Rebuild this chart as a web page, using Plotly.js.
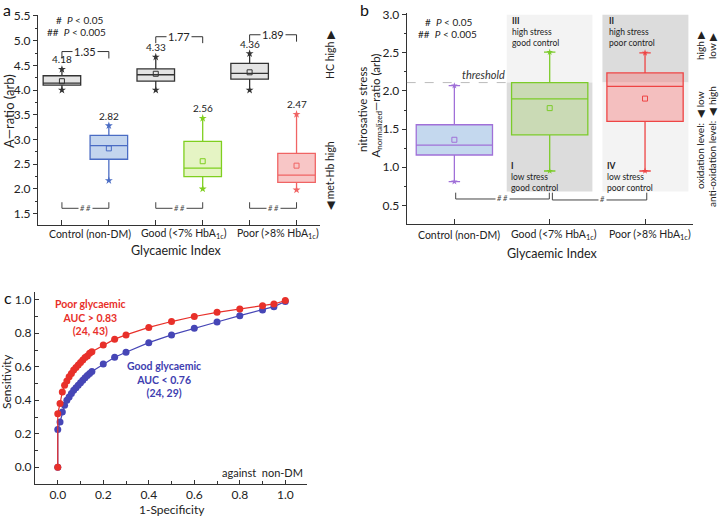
<!DOCTYPE html>
<html>
<head>
<meta charset="utf-8">
<script src="https://cdn.plot.ly/plotly-3.0.1.min.js"></script>
<style>
  html, body { margin: 0; padding: 0; background: #fff; }
  #chart { width: 719px; height: 516px; }
</style>
</head>
<body>
<div id="chart"></div>
<script>
// panel a: HC (grey) and met-Hb (coloured) ratios per glycaemic group
var groups = ['Control (non-DM)', 'Good (&lt;7% HbA<sub>1c</sub>)', 'Poor (&gt;8% HbA<sub>1c</sub>)'];
var hcQ1 = [4.10, 4.18, 4.22];
var hcMed = [4.14, 4.31, 4.34];
var hcQ3 = [4.29, 4.43, 4.54];
var hcLo = [4.00, 4.00, 4.00];
var hcHi = [4.42, 4.67, 4.74];
var hcMean = [4.18, 4.33, 4.36];
var mhQ1 = [2.60, 2.25, 2.13];
var mhMed = [2.875, 2.42, 2.28];
var mhQ3 = [3.085, 2.96, 2.72];
var mhLo = [2.17, 2.00, 1.98];
var mhHi = [3.28, 3.43, 3.51];
var mhMean = [2.82, 2.56, 2.47];
var ratioText = ['1.35', '1.77', '1.89'];

// panel b: nitrosative stress
var nsQ1 = [1.16, 1.425, 1.60];
var nsMed = [1.29, 1.895, 2.06];
var nsQ3 = [1.557, 2.11, 2.237];
var nsLo = [0.81, 0.95, 0.95];
var nsHi = [2.07, 2.51, 2.50];
var nsMean = [1.36, 1.775, 1.90];
var threshold = 2.11;

// panel c: ROC curves
var poorFpr = [0, 0, 0.01, 0.02, 0.03, 0.04, 0.05, 0.06, 0.07, 0.08, 0.09, 0.10, 0.11, 0.12, 0.13, 0.14, 0.15, 0.20, 0.25, 0.30, 0.40, 0.50, 0.60, 0.70, 0.80, 0.90, 0.95, 1.00];
var poorTpr = [0, 0.32, 0.38, 0.45, 0.49, 0.515, 0.54, 0.56, 0.58, 0.595, 0.61, 0.625, 0.64, 0.655, 0.665, 0.68, 0.69, 0.73, 0.765, 0.79, 0.835, 0.87, 0.90, 0.925, 0.945, 0.965, 0.975, 0.995];
var goodFpr = [0, 0, 0.01, 0.02, 0.03, 0.04, 0.05, 0.06, 0.07, 0.08, 0.09, 0.10, 0.11, 0.12, 0.13, 0.14, 0.15, 0.20, 0.25, 0.30, 0.40, 0.50, 0.60, 0.70, 0.80, 0.90, 0.95, 1.00];
var goodTpr = [0, 0.225, 0.27, 0.33, 0.37, 0.40, 0.42, 0.44, 0.46, 0.475, 0.49, 0.505, 0.52, 0.535, 0.548, 0.56, 0.572, 0.617, 0.657, 0.687, 0.744, 0.79, 0.83, 0.867, 0.905, 0.939, 0.959, 0.99];

var W = 719, H = 516;
function px(x) { return x / W; }
function py(y) { return 1 - y / H; }

var FONT = 'Lato, "Open Sans", sans-serif';
var posHC = [1, 3, 5], posMH = [2, 4, 6];
var mhLine = ['#4a6cc4', '#7fcf1f', '#f06464'];
var mhFill = ['#c3d5ee', '#e5f4c4', '#f8c6c6'];
var nsLine = ['#a070d8', '#7ccb2a', '#ee4444'];
var nsFill = ['#c4d8ee', 'rgba(170,215,110,0.35)', 'rgba(245,120,120,0.42)'];

var data = [];

function addBox(ax, ay, x, q1, med, q3, lo, hi, mean, line, fill, cap, mk) {
  data.push({
    type: 'box', xaxis: ax, yaxis: ay, x: [x],
    q1: [q1], median: [med], q3: [q3], lowerfence: [lo], upperfence: [hi],
    width: 0.8, whiskerwidth: cap, boxpoints: false,
    fillcolor: fill, line: { color: line, width: 1.3 },
    hoverinfo: 'skip', showlegend: false
  });
  data.push({
    type: 'scatter', mode: 'markers', xaxis: ax, yaxis: ay,
    x: [x, x], y: [lo, hi],
    marker: { symbol: 'star', size: mk, color: line },
    hoverinfo: 'skip', showlegend: false
  });
  data.push({
    type: 'scatter', mode: 'markers', xaxis: ax, yaxis: ay,
    x: [x], y: [mean],
    marker: { symbol: 'square-open', size: 5, color: line, line: { width: 1 } },
    hoverinfo: 'skip', showlegend: false
  });
}

for (var i = 0; i < 3; i++) {
  addBox('x', 'y', posHC[i], hcQ1[i], hcMed[i], hcQ3[i], hcLo[i], hcHi[i], hcMean[i], '#333333', '#e4e4e4', 0, 6);
  addBox('x', 'y', posMH[i], mhQ1[i], mhMed[i], mhQ3[i], mhLo[i], mhHi[i], mhMean[i], mhLine[i], mhFill[i], 0, 6);
  addBox('x2', 'y2', i, nsQ1[i], nsMed[i], nsQ3[i], nsLo[i], nsHi[i], nsMean[i], nsLine[i], nsFill[i], 0.15, 5);
}

data.push({
  type: 'scatter', mode: 'lines+markers', xaxis: 'x3', yaxis: 'y3',
  x: goodFpr, y: goodTpr,
  line: { color: '#4646b6', width: 1.2 },
  marker: { color: '#4646b6', size: 7 },
  hoverinfo: 'skip', showlegend: false
});
data.push({
  type: 'scatter', mode: 'lines+markers', xaxis: 'x3', yaxis: 'y3',
  x: poorFpr, y: poorTpr,
  line: { color: '#e8302a', width: 1.2 },
  marker: { color: '#e8302a', size: 7 },
  hoverinfo: 'skip', showlegend: false
});

var annotations = [];
function f(size, color) { return { family: FONT, size: size, color: color || '#222' }; }
function note(x, y, text, o) {
  annotations.push(Object.assign({
    xref: 'paper', yref: 'paper', x: px(x), y: py(y), text: text, showarrow: false,
    xanchor: 'center', yanchor: 'middle', font: f(11)
  }, o || {}));
}
function dnote(xr, yr, x, y, text, o) {
  annotations.push(Object.assign({
    xref: xr, yref: yr, x: x, y: y, text: text, showarrow: false,
    xanchor: 'center', yanchor: 'middle', font: f(11)
  }, o || {}));
}

var shapes = [];
function seg(xr, yr, x0, y0, x1, y1, color, dash) {
  shapes.push({ type: 'line', xref: xr, yref: yr, x0: x0, y0: y0, x1: x1, y1: y1,
    line: { color: color || '#333', width: 1, dash: dash || 'solid' } });
}

// panel labels
note(7, 9, 'a', { font: f(16, '#111') });
note(365, 9, 'b', { font: f(16, '#111') });
note(8, 297, 'c', { font: f(16, '#111') });

// ---- panel a ----
note(79, 20, '#  <i>P</i> &lt; 0.05', { font: f(10) });
note(76, 32, '##  <i>P</i> &lt; 0.005', { font: f(10) });
var brTop = [4.78, 5.08, 5.12], brLeg = [4.64, 4.95, 4.98];
for (var i = 0; i < 3; i++) {
  var a0 = posHC[i], a1 = posMH[i], mid = (a0 + a1) / 2;
  seg('x', 'y', a0, brLeg[i], a0, brTop[i]);
  seg('x', 'y', a0, brTop[i], a1, brTop[i]);
  seg('x', 'y', a1, brTop[i], a1, brLeg[i]);
  dnote('x', 'y', mid, brTop[i], ratioText[i], { bgcolor: '#fff', font: f(11) });
  dnote('x', 'y', a0, hcHi[i], hcMean[i].toFixed(2), { yanchor: 'bottom', yshift: 2, font: f(10) });
  dnote('x', 'y', a1, mhHi[i], mhMean[i].toFixed(2), { yanchor: 'bottom', yshift: 2, font: f(10) });
  seg('x', 'y', a0, 1.73, a0, 1.607, '#444');
  seg('x', 'y', a0, 1.607, a1, 1.607, '#444');
  seg('x', 'y', a1, 1.607, a1, 1.73, '#444');
  dnote('x', 'y', mid, 1.607, '<i># #</i>', { bgcolor: '#fff', font: f(7.5, '#444') });
  dnote('x', 'paper', mid + 0.1, py(234.5), groups[i], { font: f(10.5) });
}
note(176, 250, 'Glycaemic Index', { font: f(12.5) });
note(9, 111, 'A—ratio (arb)', { textangle: -90, font: f(13) });
note(330, 55, 'HC high ▶', { textangle: -90, font: f(10.5) });
note(330, 176, '◀ met-Hb high', { textangle: -90, font: f(10.5) });

// ---- panel b ----
var qx = [[0.549, 1.448], [1.553, 2.455]];
shapes.push({ type: 'rect', xref: 'x2', yref: 'y2', layer: 'below', x0: qx[0][0], x1: qx[0][1], y0: threshold, y1: 3.0, fillcolor: '#f3f3f3', line: { width: 0 } });
shapes.push({ type: 'rect', xref: 'x2', yref: 'y2', layer: 'below', x0: qx[0][0], x1: qx[0][1], y0: 0.68, y1: threshold, fillcolor: '#dcdcdc', line: { width: 0 } });
shapes.push({ type: 'rect', xref: 'x2', yref: 'y2', layer: 'below', x0: qx[1][0], x1: qx[1][1], y0: threshold, y1: 3.0, fillcolor: '#dcdcdc', line: { width: 0 } });
shapes.push({ type: 'rect', xref: 'x2', yref: 'y2', layer: 'below', x0: qx[1][0], x1: qx[1][1], y0: 0.68, y1: threshold, fillcolor: '#f3f3f3', line: { width: 0 } });
seg('x2', 'y2', -0.5, threshold, qx[0][0], threshold, '#bbbbbb', 'dash');
dnote('x2', 'y2', 0.31, threshold, '<i>threshold</i>', { yanchor: 'bottom', yshift: 0, font: f(11, '#333') });

var qf = f(8.5);
note(510, 32, '<b>III</b><br>high stress<br>good control', { xanchor: 'left', align: 'left', font: qf });
note(606.5, 32, '<b>II</b><br>high stress<br>poor control', { xanchor: 'left', align: 'left', font: qf });
note(509, 177, '<b>I</b><br>low stress<br>good control', { xanchor: 'left', align: 'left', font: qf });
note(604.5, 177, '<b>IV</b><br>low stress<br>poor control', { xanchor: 'left', align: 'left', font: qf });

note(448, 22, '#  <i>P</i> &lt; 0.05', { font: f(10) });
note(447, 33.5, '##  <i>P</i> &lt; 0.005', { font: f(10) });

seg('x2', 'y2', 0.014, 0.666, 0.014, 0.583, '#444');
seg('x2', 'y2', 0.014, 0.583, 0.996, 0.583, '#444');
seg('x2', 'y2', 0.996, 0.583, 0.996, 0.666, '#444');
seg('x2', 'y2', 1.028, 0.666, 1.028, 0.570, '#444');
seg('x2', 'y2', 1.028, 0.570, 2.018, 0.570, '#444');
seg('x2', 'y2', 2.018, 0.570, 2.018, 0.666, '#444');
dnote('x2', 'y2', 0.508, 0.583, '<i># #</i>', { bgcolor: '#fff', font: f(7.5, '#444') });
dnote('x2', 'y2', 1.55, 0.570, '<i>#</i>', { bgcolor: '#fff', font: f(7.5, '#444') });

for (var i = 0; i < 3; i++) {
  dnote('x2', 'paper', i + 0.05, py(235), groups[i], { font: f(10.5) });
}
note(552, 253, 'Glycaemic Index', { font: f(12.5) });
note(363, 110, 'nitrosative stress', { textangle: -90, font: f(11.5) });
note(375.5, 106, 'A<sub>normalized</sub>—ratio (arb)', { textangle: -90, font: f(11.5) });
note(700, 46, 'high ▶', { textangle: -90, font: f(10) });
note(712, 46, 'low ▶', { textangle: -90, font: f(10) });
note(700, 140, 'oxidation level:  ◀ low', { textangle: -90, font: f(10) });
note(712, 147, 'anti-oxidation level:  ◀ high', { textangle: -90, font: f(10) });

// ---- panel c ----
note(90, 317, '<b>Poor glycaemic<br>AUC &gt; 0.83<br>(24, 43)</b>', { font: f(10.5, '#e8302a') });
note(164, 379.5, '<b>Good glycaemic<br>AUC &lt; 0.76<br>(24, 29)</b>', { font: f(10.5, '#4040b0') });
note(305, 472, 'against  non-DM', { xanchor: 'right', font: f(11) });
note(172, 509, '1-Specificity', { font: f(12) });
note(6, 382, 'Sensitivity', { textangle: -90, font: f(12) });

var axBase = {
  showline: true, linecolor: '#333', linewidth: 1, showgrid: false, zeroline: false,
  fixedrange: true, tickcolor: '#333', tickfont: f(12)
};

var layout = {
  width: W, height: H,
  margin: { l: 0, r: 0, t: 0, b: 0 },
  paper_bgcolor: '#fff', plot_bgcolor: 'rgba(0,0,0,0)',
  showlegend: false,
  xaxis: Object.assign({}, axBase, {
    domain: [px(38), px(320)], range: [0.49, 6.5], anchor: 'y',
    tickvals: [1, 2, 3, 4, 5, 6], showticklabels: false, ticks: 'inside', ticklen: 5
  }),
  yaxis: Object.assign({}, axBase, {
    domain: [py(225.3), py(14.5)], range: [1.263, 5.53], anchor: 'x',
    dtick: 0.5, tick0: 0, tickformat: '.1f', ticks: 'outside', ticklen: 4,
    minor: { dtick: 0.25, ticks: 'outside', ticklen: 2, tickcolor: '#333' }
  }),
  xaxis2: Object.assign({}, axBase, {
    domain: [px(406.7), px(692.7)], range: [-0.5, 2.5], anchor: 'y2',
    tickvals: [0, 1, 2], showticklabels: false, ticks: 'inside', ticklen: 5
  }),
  yaxis2: Object.assign({}, axBase, {
    domain: [py(224), py(13.2)], range: [0.255, 3.02], anchor: 'x2',
    dtick: 0.5, tick0: 0, tickformat: '.1f', ticks: 'outside', ticklen: 4,
    minor: { dtick: 0.25, ticks: 'outside', ticklen: 2, tickcolor: '#333' }
  }),
  xaxis3: Object.assign({}, axBase, {
    domain: [px(35), px(306.7)], range: [-0.1, 1.094], anchor: 'y3',
    dtick: 0.2, tick0: 0, tickformat: '.1f', ticks: 'inside', ticklen: 4,
    minor: { dtick: 0.1, ticks: 'inside', ticklen: 3, tickcolor: '#333' }
  }),
  yaxis3: Object.assign({}, axBase, {
    domain: [py(484), py(292.4)], range: [-0.1, 1.044], anchor: 'x3',
    dtick: 0.2, tick0: 0, tickformat: '.1f', ticks: 'inside', ticklen: 4,
    minor: { dtick: 0.1, ticks: 'inside', ticklen: 3, tickcolor: '#333' }
  }),
  shapes: shapes,
  annotations: annotations
};

Plotly.newPlot('chart', data, layout, { displayModeBar: false, staticPlot: true });
</script>
</body>
</html>
